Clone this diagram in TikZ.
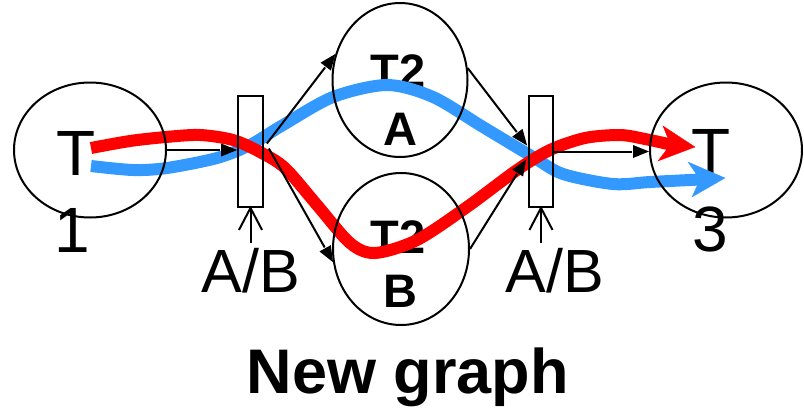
\documentclass[tikz,border=0pt]{standalone}
\usepackage{fontspec}
\setmainfont{Liberation Sans}
\usetikzlibrary{shapes.geometric,calc}
\definecolor{flowred}{RGB}{255,0,0}
\definecolor{flowblue}{RGB}{51,153,255}
% black connector with a filled triangular head: #1 start, #2 tip, #3 unique tag
\newcommand\blkarrow[3]{%
  \path (#2) coordinate (tip#3) ($(#2)!16pt!(#1)$) coordinate (base#3);
  \path ($(base#3)!6.5pt!90:(tip#3)$) coordinate (ca#3) ($(base#3)!6.5pt!-90:(tip#3)$) coordinate (cb#3);
  \draw[conn] (#1) -- ($(base#3)!-1pt!(tip#3)$);
  \fill[black] (tip#3) -- (ca#3) -- (cb#3) -- cycle;}
\begin{document}
\begin{tikzpicture}[x=1pt,y=-1pt,
  ell/.style={draw, ellipse, line width=2pt, inner sep=0pt},
  tbox/.style={draw, rectangle, line width=1.8pt, inner sep=0pt},
  conn/.style={line width=2pt},
  barbst/.style={line width=2pt, line cap=butt, line join=miter},
  bigt/.style={inner sep=0pt, anchor=base, font=\fontsize{64}{64}\selectfont},
  abt/.style={inner sep=0pt, anchor=base, font=\fontsize{61}{61}\selectfont},
  midb/.style={inner sep=0pt, anchor=base, font=\fontsize{47}{47}\selectfont\bfseries},
  titlet/.style={inner sep=0pt, anchor=base, font=\fontsize{63}{63}\selectfont\bfseries},
  flow/.style={line width=12pt},
  head/.style={line width=0.3pt, line join=miter}
  ]
\path[use as bounding box] (0,0) rectangle (804,410);

% texts
\node[bigt] (t1T) at (76,175) {T};
\node[bigt] (t1n) at (72,252) {1};
\node[bigt] (t3T) at (711,173) {T};
\node[bigt] (t3n) at (710,251) {3};
\node[midb] (t2aT) at (398,87) {T2};
\node[midb] (t2aA) at (400,145) {A};
\node[midb] (t2bT) at (398,253) {T2};
\node[midb] (t2bB) at (400,307) {B};
\node[abt] (ab1) at (251,292) {A/B};
\node[abt] (ab2) at (555,292) {A/B};
\node[titlet] (title) at (408,393) {New graph};

% flows
\coordinate (btip) at (725,178);
\coordinate (bnotch) at (700,179.5);
\coordinate (rtip) at (695,147);
\coordinate (rnotch) at (670.5,144.5);
\draw[flow, flowblue] plot[smooth] coordinates {(91,166) (133,170) (167,168) (217,158) (250,145) (283,125) (333,97) (387,85) (433,97) (483,127) (533,157) (563,174) (613,184) (650,182) (700,179.5)};
\fill[head, flowblue, draw=flowblue] (btip) -- (688,162) -- (bnotch) -- (692,197) -- cycle;
\draw[flow, flowred] plot[smooth] coordinates {(91,148) (130,141) (166,137) (200,135) (233,140) (260,152) (285,168) (317,205) (350,243) (375,253) (417,240) (467,207) (517,170) (550,150) (585,138) (620,135) (645,139) (670.5,144.5)};
\fill[head, flowred, draw=flowred] (rtip) -- (663,126) -- (rnotch) -- (658,161) -- cycle;

% shapes
\node[ell, minimum width=152pt, minimum height=135pt] (t1) at (90,150) {};
\node[ell, minimum width=135pt, minimum height=154pt] (t2a) at (400,80) {};
\node[ell, minimum width=136pt, minimum height=152pt] (t2b) at (401,249) {};
\node[ell, minimum width=152pt, minimum height=135pt] (t3) at (726,150) {};
\node[tbox, minimum width=25pt, minimum height=111pt] (b1) at (250.5,151.5) {};
\node[tbox, minimum width=24pt, minimum height=111pt] (b2) at (541,151.5) {};

% connector end points
\coordinate (s1) at (t1.east);
\coordinate (e1) at (t1.east -| b1.west);
\coordinate (s2) at ($(b1.east)+(3,-8)$);
\coordinate (e2) at (t2a.158);
\coordinate (s3) at ($(b1.east)+(5,-3)$);
\coordinate (e3) at (t2b.191);
\coordinate (s4) at (t2a.10);
\coordinate (e4) at ($(b2.west)+(-1,-6)$);
\coordinate (s5) at (t2b.0);
\coordinate (e5) at ($(b2.west)+(-2,8)$);
\coordinate (s6) at (b2.east);
\coordinate (e6) at (b2.east -| t3.west);

% connectors
\blkarrow{s1}{e1}{a}
\blkarrow{s2}{e2}{b}
\blkarrow{s3}{e3}{c}
\blkarrow{s4}{e4}{d}
\blkarrow{s5}{e5}{e}
\blkarrow{s6}{e6}{f}

% trigger arrows under the boxes
\coordinate (u1) at (250.5,243);
\coordinate (u2) at (541,243);
\draw[barbst] (u1) -- (b1.south);
\draw[barbst] ($(b1.south)+(-11.5,22)$) -- (b1.south) -- ($(b1.south)+(11.5,22)$);
\draw[barbst] (u2) -- (b2.south);
\draw[barbst] ($(b2.south)+(-11.5,22)$) -- (b2.south) -- ($(b2.south)+(11.5,22)$);
\end{tikzpicture}
\end{document}
